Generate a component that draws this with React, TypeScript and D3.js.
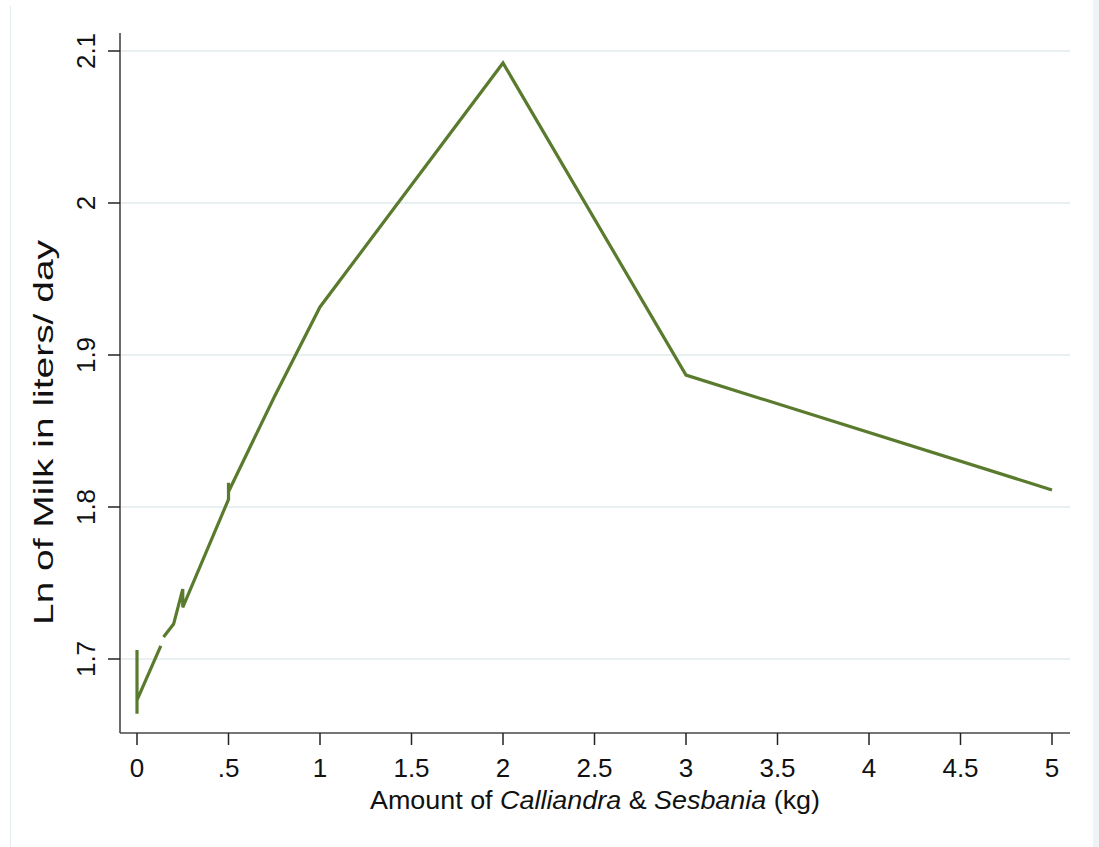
import React from "react";
import * as d3 from "d3";

const xVals: number[] = [0, 0, 0, 0.13, 0.14, 0.145, 0.2, 0.25, 0.25, 0.5, 0.5, 0.5, 0.75, 1, 2, 3, 5];
const yVals: (number | null)[] = [1.706, 1.664, 1.673, 1.7086, null, 1.7145, 1.723, 1.746, 1.734, 1.805, 1.816, 1.81, 1.8724, 1.9316, 2.0921, 1.8868, 1.8112];

const xTicks: number[] = [0, 0.5, 1, 1.5, 2, 2.5, 3, 3.5, 4, 4.5, 5];
const xTickLabels: string[] = ["0", ".5", "1", "1.5", "2", "2.5", "3", "3.5", "4", "4.5", "5"];
const yTicks: number[] = [1.7, 1.8, 1.9, 2, 2.1];
const yTickLabels: string[] = ["1.7", "1.8", "1.9", "2", "2.1"];

export default function App() {
  const W = 1099, H = 847;
  const left = 120, right = 1070, top = 33, bottom = 733;
  const x = d3.scaleLinear().domain([0, 5]).range([137, 1052]);
  const y = d3.scaleLinear().domain([1.7, 2.1]).range([659, 51]);
  const pts = xVals.map((v, i) => ({ x: v, y: yVals[i] }));
  const line = d3
    .line<{ x: number; y: number | null }>()
    .defined((d) => d.y !== null)
    .x((d) => x(d.x))
    .y((d) => y(d.y as number));
  const font = "'Liberation Sans', Arial, sans-serif";
  const green = "#5a7b2e";
  return (
    <svg width={W} height={H} style={{ position: "absolute", left: 0, top: 0 }} fontFamily={font}>
      <rect x={0} y={0} width={W} height={H} fill="#ffffff" />
      <rect x={1093} y={0} width={W - 1093} height={H} fill="#eef3f5" />
      <line x1={10.5} x2={10.5} y1={6} y2={H} stroke="#e3ecee" strokeWidth={1} />
      {yTicks.map((t) => (
        <line key={"g" + t} x1={left} x2={right} y1={y(t)} y2={y(t)} stroke="#e8f0f2" strokeWidth={2} />
      ))}
      <path d={line(pts) || ""} fill="none" stroke={green} strokeWidth={3.2} strokeLinejoin="miter" />
      <line x1={left} x2={left} y1={top} y2={bottom} stroke="#474747" strokeWidth={1.6} />
      <line x1={left} x2={right} y1={bottom} y2={bottom} stroke="#474747" strokeWidth={1.6} />
      {yTicks.map((t, i) => (
        <g key={"yt" + t}>
          <line x1={108} x2={left} y1={y(t)} y2={y(t)} stroke="#222" strokeWidth={1.5} />
          <text
            transform={`translate(95,${y(t)}) rotate(-90)`}
            textAnchor="middle"
            fontSize={26}
            fill="#111"
          >
            {yTickLabels[i]}
          </text>
        </g>
      ))}
      {xTicks.map((t, i) => (
        <g key={"xt" + t}>
          <line x1={x(t)} x2={x(t)} y1={bottom} y2={745} stroke="#222" strokeWidth={1.5} />
          <text x={x(t)} y={777} textAnchor="middle" fontSize={26} fill="#111">
            {xTickLabels[i]}
          </text>
        </g>
      ))}
      <text x={370} y={809} fontSize={25} fill="#111" textLength={450} lengthAdjust="spacingAndGlyphs">
        Amount of <tspan fontStyle="italic">Calliandra</tspan> &amp; <tspan fontStyle="italic">Sesbania</tspan> (kg)
      </text>
      <text
        transform={`translate(53,625) rotate(-90)`}
        fontSize={28}
        fill="#111"
        textLength={385}
        lengthAdjust="spacingAndGlyphs"
      >
        Ln of Milk in liters/ day
      </text>
    </svg>
  );
}
